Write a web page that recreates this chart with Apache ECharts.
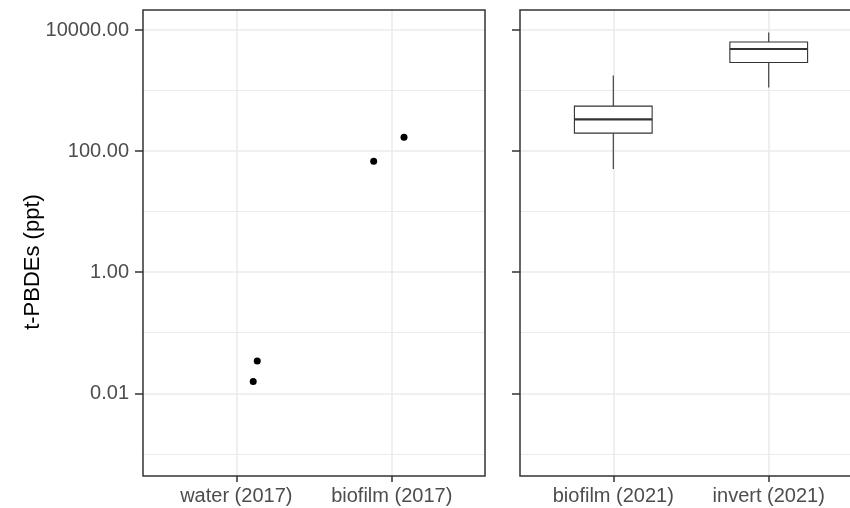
<!DOCTYPE html>
<html><head><meta charset="utf-8">
<script src="https://cdn.jsdelivr.net/npm/echarts@6/dist/echarts.min.js"></script>
<style>html,body{margin:0;padding:0;background:#fff}#c{width:850px;height:508px}</style>
</head><body><div id="c"></div>
<script>
// ---- data ----
const categories2017 = ['water (2017)', 'biofilm (2017)'];
const pointCategory = [0, 0, 1, 1];
const pointJitter = [0.135, 0.109, -0.116, 0.079];
const pointValue = [0.0342, 0.0156, 68, 170];

const categories2021 = ['biofilm (2021)', 'invert (2021)'];
const boxMin = [50.4, 1125];
const boxQ1 = [198, 2914];
const boxMedian = [333, 4853];
const boxQ3 = [554, 6336];
const boxMax = [1778, 9120];

const yTickValues = [0.01, 1, 100, 10000];
const yTickLabels = ['0.01', '1.00', '100.00', '10000.00'];
const yMinorValues = [0.001, 0.1, 10, 1000];
const yRange = [0.00043, 21400];
const yTitle = 't-PBDEs (ppt)';

// ---- chart ----
const lg = Math.log10;
const FONT = '"Liberation Sans", Arial, sans-serif';
const catPos = [1, 2];
const yTicksT = yTickValues.map(lg);

function gridLines() {
  return [
    ...yMinorValues.map(v => ({ yAxis: lg(v), lineStyle: { color: '#EBEBEB', width: 1, type: 'solid' } })),
    ...yTickValues.map(v => ({ yAxis: lg(v), lineStyle: { color: '#EBEBEB', width: 1.6, type: 'solid' } })),
    ...catPos.map(v => ({ xAxis: v, lineStyle: { color: '#EBEBEB', width: 1.6, type: 'solid' } }))
  ];
}
function markLineFor() {
  return { silent: true, symbol: ['none', 'none'], z: 0, animation: false,
    label: { show: false }, emphasis: { disabled: true }, data: gridLines() };
}
function xAxisFor(gi, cats) {
  return {
    type: 'value', gridIndex: gi, min: 0.4, max: 2.6, position: 'bottom',
    axisLine: { show: false, onZero: false },
    axisTick: { show: true, customValues: catPos, length: 6, lineStyle: { color: '#333333', width: 1.5 } },
    axisLabel: { customValues: catPos, formatter: v => cats[Math.round(v) - 1], color: '#4D4D4D',
      fontSize: 20, margin: 10, fontFamily: FONT },
    splitLine: { show: false }
  };
}
function yAxisFor(gi) {
  return {
    type: 'value', gridIndex: gi, min: lg(yRange[0]), max: lg(yRange[1]), position: 'left',
    axisLine: { show: false, onZero: false },
    axisTick: { show: true, customValues: yTicksT, length: 8, lineStyle: { color: '#333333', width: 1.5 } },
    axisLabel: { show: gi === 0, customValues: yTicksT,
      formatter: v => yTickLabels[yTicksT.findIndex(t => Math.abs(t - v) < 1e-6)],
      color: '#4D4D4D', fontSize: 20, margin: 14, fontFamily: FONT },
    splitLine: { show: false }
  };
}

const scatterData = pointValue.map((v, i) => [catPos[pointCategory[i]] + pointJitter[i], lg(v)]);
const boxData = categories2021.map((c, i) => [catPos[i], lg(boxMin[i]), lg(boxQ1[i]), lg(boxMedian[i]), lg(boxQ3[i]), lg(boxMax[i])]);

const chart = echarts.init(document.getElementById('c'), null, { renderer: 'canvas' });
chart.setOption({
  animation: false,
  backgroundColor: '#ffffff',
  grid: [
    { left: 143, top: 10, width: 342, height: 466, show: true, borderColor: '#333333', borderWidth: 1.5, z: 10,
      backgroundColor: 'transparent', containLabel: false, outerBoundsMode: 'none' },
    { left: 520, top: 10, width: 342, height: 466, show: true, borderColor: '#333333', borderWidth: 1.5, z: 10,
      backgroundColor: 'transparent', containLabel: false, outerBoundsMode: 'none' }
  ],
  xAxis: [xAxisFor(0, categories2017), xAxisFor(1, categories2021)],
  yAxis: [yAxisFor(0), yAxisFor(1)],
  graphic: [{
    type: 'text', x: 33, y: 262, rotation: Math.PI / 2,
    style: { text: yTitle, fontSize: 22, fontFamily: FONT, fill: '#000000', align: 'center', verticalAlign: 'middle' }
  }],
  series: [
    {
      type: 'scatter', xAxisIndex: 0, yAxisIndex: 0, data: scatterData, symbolSize: 7,
      itemStyle: { color: '#000000', opacity: 1 }, z: 3, silent: true, markLine: markLineFor()
    },
    {
      type: 'custom', xAxisIndex: 1, yAxisIndex: 1, data: boxData, z: 3, silent: true,
      encode: { x: 0, y: [1, 2, 3, 4, 5] },
      markLine: markLineFor(),
      renderItem: function (params, api) {
        const x = api.value(0), mn = api.value(1), q1 = api.value(2), md = api.value(3), q3 = api.value(4), mx = api.value(5);
        const hw = 0.25;
        const pMin = api.coord([x, mn]), pMax = api.coord([x, mx]);
        const pQ1L = api.coord([x - hw, q1]), pQ3R = api.coord([x + hw, q3]);
        const pMdL = api.coord([x - hw, md]), pMdR = api.coord([x + hw, md]);
        const st = { stroke: '#333333', lineWidth: 1.1, fill: null };
        return { type: 'group', children: [
          { type: 'line', shape: { x1: pMax[0], y1: pMax[1], x2: pMax[0], y2: pQ3R[1] }, style: st },
          { type: 'line', shape: { x1: pMin[0], y1: pMin[1], x2: pMin[0], y2: pQ1L[1] }, style: st },
          { type: 'rect', shape: { x: pQ1L[0], y: pQ3R[1], width: pQ3R[0] - pQ1L[0], height: pQ1L[1] - pQ3R[1] },
            style: { stroke: '#333333', lineWidth: 1.1, fill: '#ffffff' } },
          { type: 'line', shape: { x1: pMdL[0], y1: pMdL[1], x2: pMdR[0], y2: pMdR[1] }, style: { stroke: '#333333', lineWidth: 2.2 } }
        ] };
      }
    }
  ]
});
</script>
</body></html>
